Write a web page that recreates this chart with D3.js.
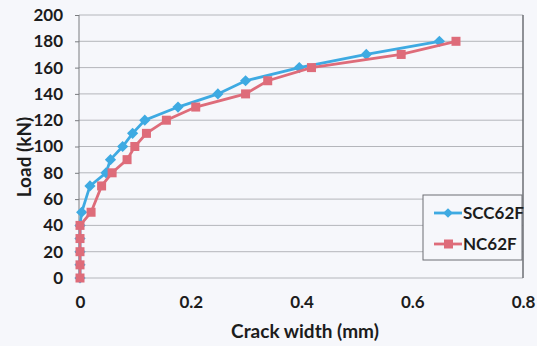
<!DOCTYPE html>
<html>
<head>
<meta charset="utf-8">
<script src="https://cdn.jsdelivr.net/npm/d3@7"></script>
<style>
  html, body { margin: 0; padding: 0; background: #f6f7fb; }
  svg { display: block; font-family: Lato, "Open Sans", sans-serif; font-weight: bold; }
</style>
</head>
<body>
<div id="chart"></div>
<script>
// values
const sccLoad  = [0, 10, 20, 30, 40, 50, 70, 80, 90, 100, 110, 120, 130, 140, 150, 160, 170, 180];
const sccCrack = [0, 0, 0, 0, 0, 0.003, 0.018, 0.047, 0.055, 0.077, 0.095, 0.117, 0.177, 0.249, 0.299, 0.396, 0.517, 0.649];
const ncLoad   = [0, 10, 20, 30, 40, 50, 70, 80, 90, 100, 110, 120, 130, 140, 150, 160, 170, 180];
const ncCrack  = [0, 0, 0, 0, 0, 0.02, 0.039, 0.058, 0.085, 0.099, 0.12, 0.156, 0.209, 0.299, 0.339, 0.418, 0.58, 0.679];
const xTicks = [0, 0.2, 0.4, 0.6, 0.8];
const yTicks = [0, 20, 40, 60, 80, 100, 120, 140, 160, 180, 200];
const seriesNames = ['SCC62F', 'NC62F'];

const W = 537, H = 346;
const margin = { top: 15, right: 14, bottom: 68, left: 79 };

const svg = d3.select('#chart').append('svg')
  .attr('width', W)
  .attr('height', H);

const x = d3.scaleLinear().domain([0, 0.8]).range([margin.left + 1, W - margin.right]);
const y = d3.scaleLinear().domain([0, 200]).range([H - margin.bottom, margin.top]);

// gridlines
svg.append('g')
  .selectAll('line')
  .data(yTicks)
  .join('line')
  .attr('x1', margin.left)
  .attr('x2', W - margin.right)
  .attr('y1', d => y(d))
  .attr('y2', d => y(d))
  .attr('stroke', '#b4b6bb')
  .attr('stroke-width', 1);

// plot border (right side darker like the scan)
svg.append('line')
  .attr('x1', W - margin.right).attr('x2', W - margin.right)
  .attr('y1', margin.top).attr('y2', H - margin.bottom)
  .attr('stroke', '#6d6f74').attr('stroke-width', 1.5);

// y axis
const yAxis = svg.append('g')
  .attr('transform', `translate(${margin.left}, 0)`)
  .call(d3.axisLeft(y).tickValues(yTicks).tickSize(4).tickPadding(12));
yAxis.select('.domain').attr('stroke', '#7a7c80').attr('d', `M0,${margin.top}V${H - margin.bottom + 4}`);
yAxis.selectAll('.tick line').attr('stroke', '#7a7c80');
yAxis.selectAll('text').attr('font-size', 17).attr('fill', '#1c1c1c').attr('font-family', 'Lato, sans-serif');

// x axis (labels only, no line)
const xAxis = svg.append('g')
  .attr('transform', `translate(0, ${H - margin.bottom})`)
  .call(d3.axisBottom(x).tickValues(xTicks).tickSize(0).tickPadding(18).tickFormat(d => d === 0 ? '0' : d3.format('.1f')(d)));
xAxis.select('.domain').remove();
xAxis.selectAll('text').attr('font-size', 17).attr('fill', '#1c1c1c').attr('font-family', 'Lato, sans-serif');

// axis titles
svg.append('text')
  .attr('x', 305).attr('y', 338)
  .attr('text-anchor', 'middle')
  .attr('font-size', 19)
  .attr('fill', '#1c1c1c')
  .text('Crack width (mm)');

svg.append('text')
  .attr('transform', 'translate(31, 157) rotate(-90)')
  .attr('text-anchor', 'middle')
  .attr('font-size', 19)
  .attr('fill', '#1c1c1c')
  .text('Load (kN)');

const colors = ['#3eaae2', '#de6c7a'];
const line = d3.line().x(d => x(d[0])).y(d => y(d[1]));

const sccData = sccCrack.map((c, i) => [c, sccLoad[i]]);
const ncData = ncCrack.map((c, i) => [c, ncLoad[i]]);

// SCC62F
svg.append('path')
  .datum(sccData)
  .attr('d', line)
  .attr('fill', 'none')
  .attr('stroke', colors[0])
  .attr('stroke-width', 2.8);
svg.append('g')
  .selectAll('path')
  .data(sccData)
  .join('path')
  .attr('d', d3.symbol(d3.symbolDiamond2, 80))
  .attr('transform', d => `translate(${x(d[0])}, ${y(d[1])})`)
  .attr('fill', colors[0]);

// NC62F
svg.append('path')
  .datum(ncData)
  .attr('d', line)
  .attr('fill', 'none')
  .attr('stroke', colors[1])
  .attr('stroke-width', 2.8);
svg.append('g')
  .selectAll('rect')
  .data(ncData)
  .join('rect')
  .attr('x', d => x(d[0]) - 4.5)
  .attr('y', d => y(d[1]) - 4.5)
  .attr('width', 9)
  .attr('height', 9)
  .attr('fill', colors[1]);

// legend
const legend = svg.append('g').attr('transform', 'translate(423, 195)');
legend.append('rect')
  .attr('width', 99).attr('height', 65)
  .attr('fill', '#f6f7fb')
  .attr('stroke', '#6d6f74').attr('stroke-width', 1);

seriesNames.forEach((name, i) => {
  const ly = 18 + i * 31;
  legend.append('line')
    .attr('x1', 11).attr('x2', 39)
    .attr('y1', ly).attr('y2', ly)
    .attr('stroke', colors[i]).attr('stroke-width', 2.8);
  if (i === 0) {
    legend.append('path')
      .attr('d', d3.symbol(d3.symbolDiamond2, 60))
      .attr('transform', `translate(25, ${ly})`)
      .attr('fill', colors[i]);
  } else {
    legend.append('rect')
      .attr('x', 21).attr('y', ly - 4.5)
      .attr('width', 9).attr('height', 9)
      .attr('fill', colors[i]);
  }
  legend.append('text')
    .attr('x', 40).attr('y', ly + 6)
    .attr('font-size', 17)
    .attr('fill', '#1c1c1c')
    .text(name);
});
</script>
</body>
</html>
